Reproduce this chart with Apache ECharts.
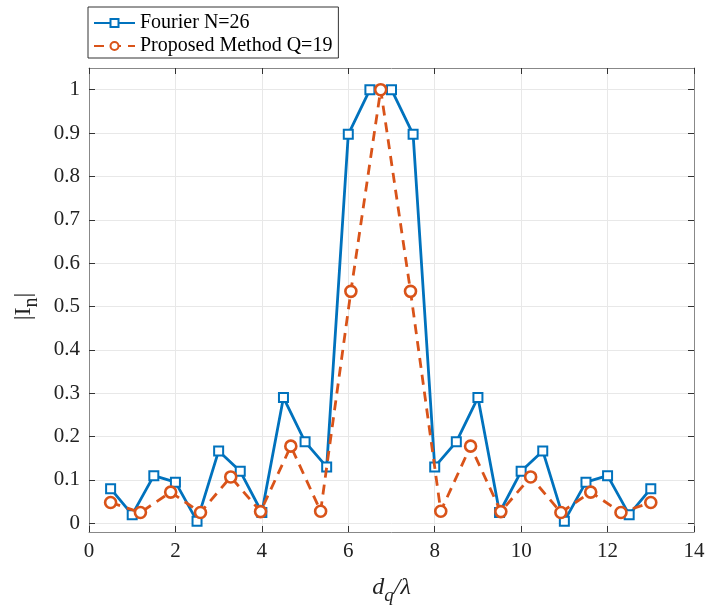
<!DOCTYPE html>
<html>
<head>
<meta charset="utf-8">
<script src="https://cdn.jsdelivr.net/npm/echarts@6/dist/echarts.min.js"></script>
<style>
html,body{margin:0;padding:0;background:#fff;}
#chart{width:710px;height:612px;}
</style>
</head>
<body>
<div id="chart"></div>
<script>
const seriesNames = ['Fourier N=26', 'Proposed Method Q=19'];
const fourierX = [0.5,1.0,1.5,2.0,2.5,3.0,3.5,4.0,4.5,5.0,5.5,6.0,6.5,7.0,7.5,8.0,8.5,9.0,9.5,10.0,10.5,11.0,11.5,12.0,12.5,13.0];
const fourierY = [0.08,0.02,0.11,0.095,0.005,0.167,0.12,0.025,0.29,0.188,0.13,0.897,1.0,1.0,0.897,0.13,0.188,0.29,0.025,0.12,0.167,0.005,0.095,0.11,0.02,0.08];
const proposedX = [0.5,1.19,1.89,2.58,3.28,3.97,4.67,5.36,6.06,6.75,7.44,8.14,8.83,9.53,10.22,10.92,11.61,12.31,13.0];
const proposedY = [0.048,0.025,0.072,0.025,0.107,0.027,0.178,0.028,0.535,1.0,0.535,0.028,0.178,0.027,0.107,0.025,0.072,0.025,0.048];
const xTicks = [0,2,4,6,8,10,12,14];
const yTicks = [0,0.1,0.2,0.3,0.4,0.5,0.6,0.7,0.8,0.9,1];

const FONT = 'Liberation Serif';
const chart = echarts.init(document.getElementById('chart'), null, {renderer:'canvas'});
const pairs = (xs, ys) => xs.map((x, i) => [x, ys[i]]);

const option = {
  animation: false,
  backgroundColor: '#fff',
  textStyle: {fontFamily: FONT},
  grid: [
    {left: 89, right: 16, top: 68, bottom: 80, show: false},
    {left: 89, right: 16, top: 89.7, bottom: 88.7, show: false}
  ],
  legend: {
    orient: 'vertical',
    left: 88, top: 7,
    padding: [6, 6, 2, 5],
    itemGap: 3,
    itemWidth: 41, itemHeight: 10,
    borderColor: '#333', borderWidth: 1,
    backgroundColor: '#fff',
    textStyle: {fontFamily: FONT, fontSize: 20, color: '#000', lineHeight: 20},
    data: seriesNames
  },
  xAxis: [
    {type: 'value', gridIndex: 0, min: xTicks[0], max: xTicks[xTicks.length-1], interval: 2, position: 'bottom',
     axisLine: {show: true, onZero: false, lineStyle: {color: '#888', width: 1}},
     axisTick: {show: true, inside: true, length: 6, lineStyle: {color: '#333'}},
     axisLabel: {show: true, fontFamily: FONT, fontSize: 21, color: '#222', margin: 9},
     splitLine: {show: true, lineStyle: {color: '#e8e8e8', width: 1}},
     name: '{i|d}{sub|q}{i|/λ}',
     nameLocation: 'middle', nameGap: 38,
     nameTextStyle: {rich: {
       i: {fontFamily: FONT, fontStyle: 'italic', fontSize: 24, color: '#222'},
       sub: {fontFamily: FONT, fontStyle: 'italic', fontSize: 19, color: '#222', padding: [16, 0, 0, 0]}
     }}
    },
    {type: 'value', gridIndex: 0, min: xTicks[0], max: xTicks[xTicks.length-1], interval: 2, position: 'top',
     axisLine: {show: true, onZero: false, lineStyle: {color: '#888', width: 1}},
     axisTick: {show: true, inside: true, length: 6, lineStyle: {color: '#333'}},
     axisLabel: {show: false}, splitLine: {show: false}},
    {type: 'value', gridIndex: 1, min: 0, max: 14, show: false}
  ],
  yAxis: [
    {type: 'value', gridIndex: 0, min: -0.02, max: 1.05, position: 'left',
     axisLine: {show: true, onZero: false, lineStyle: {color: '#888', width: 1}},
     axisTick: {show: false}, axisLabel: {show: false}, splitLine: {show: false}},
    {type: 'value', gridIndex: 0, min: -0.02, max: 1.05, position: 'right',
     axisLine: {show: true, onZero: false, lineStyle: {color: '#888', width: 1}},
     axisTick: {show: false}, axisLabel: {show: false}, splitLine: {show: false}},
    {type: 'value', gridIndex: 1, min: yTicks[0], max: yTicks[yTicks.length-1], interval: 0.1, position: 'left',
     axisLine: {show: false},
     axisTick: {show: true, inside: true, length: 6, lineStyle: {color: '#333'}},
     axisLabel: {show: true, fontFamily: FONT, fontSize: 21, color: '#222', margin: 9},
     splitLine: {show: true, lineStyle: {color: '#e8e8e8', width: 1}},
     name: '{t||I}{sub|n}{t||}',
     nameLocation: 'middle', nameGap: 47, nameRotate: 90,
     nameTextStyle: {rich: {
       t: {fontFamily: FONT, fontSize: 24, color: '#222'},
       sub: {fontFamily: FONT, fontSize: 20, color: '#222', padding: [16, 0, 0, 0]}
     }}
    },
    {type: 'value', gridIndex: 1, min: yTicks[0], max: yTicks[yTicks.length-1], interval: 0.1, position: 'right',
     axisLine: {show: false},
     axisTick: {show: true, inside: true, length: 6, lineStyle: {color: '#333'}},
     axisLabel: {show: false}, splitLine: {show: false}}
  ],
  series: [
    {name: seriesNames[0], type: 'line', xAxisIndex: 0, yAxisIndex: 0,
     data: pairs(fourierX, fourierY),
     symbol: 'rect', symbolSize: 9, showAllSymbol: true,
     lineStyle: {color: '#0072BD', width: 2.8},
     itemStyle: {color: '#fff', borderColor: '#0072BD', borderWidth: 2},
     z: 3},
    {name: seriesNames[1], type: 'line', xAxisIndex: 0, yAxisIndex: 0,
     data: pairs(proposedX, proposedY),
     symbol: 'circle', symbolSize: 11, showAllSymbol: true,
     lineStyle: {color: '#D95319', width: 2.8, type: [10, 7]},
     itemStyle: {color: '#fff', borderColor: '#D95319', borderWidth: 2.6},
     z: 4}
  ]
};
chart.setOption(option);
</script>
</body>
</html>
